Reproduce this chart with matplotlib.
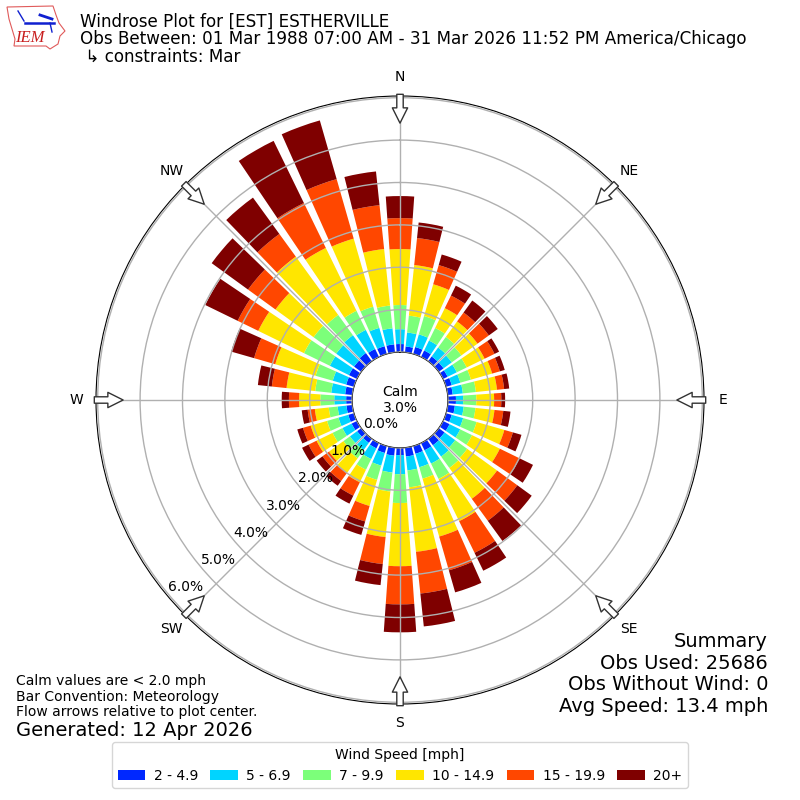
import numpy as np
import matplotlib
matplotlib.use("Agg")
import matplotlib.pyplot as plt
from matplotlib.lines import Line2D
from matplotlib.patches import Polygon

directions = np.arange(10, 370, 10)

# percent of obs per direction bin (10, 20, ... 360 degrees)
speed_2_5 = [.14, .17, .17, .14, .14, .12, .14, .12, .19, .17, .14, .17,
             .17, .19, .19, .19, .21, .17, .19, .17, .14, .12, .12, .14,
             .14, .14, .14, .17, .19, .21, .21, .24, .21, .19, .19, .19]
speed_5_7 = [.33, .31, .26, .26, .24, .24, .21, .24, .17, .21, .28, .28,
             .31, .33, .35, .33, .33, .45, .40, .31, .28, .21, .21, .24,
             .24, .21, .28, .33, .33, .50, .52, .52, .50, .45, .38, .35]
speed_7_10 = [.40, .45, .33, .31, .28, .26, .26, .31, .31, .28, .33, .31,
              .35, .33, .40, .28, .40, .68, .45, .35, .28, .24, .19, .26,
              .28, .21, .33, .38, .42, .68, .66, .59, .50, .52, .54, .57]
speed_10_15 = [1.20, .78, .52, .45, .47, .47, .52, .50, .42, .45, .68, .73,
               .87, .90, 1.11, 1.42, 1.53, 1.49, 1.08, .64, .33, .42, .42, .42,
               .40, .33, .50, .68, .99, 1.20, 1.11, 1.70, 1.65, 1.67, 1.34, 1.32]
speed_15_20 = [.64, .47, .33, .26, .33, .26, .19, .17, .17, .21, .21, .52,
               .59, .64, .83, .83, .99, .90, .64, .38, .35, .24, .19, .21,
               .19, .17, .24, .35, .52, .54, .80, .66, 1.18, 1.46, 1.04, .73]
speed_20_up = [.37, .26, .26, .35, .26, .12, .12, .12, .09, .17, .21, .35,
               .42, .59, .47, .54, .78, .66, .50, .33, .21, .14, .17, .17,
               .14, .14, .17, .33, .56, .85, 1.06, 1.06, 1.63, 1.44, .80, .52]

speed_bins = [speed_2_5, speed_5_7, speed_7_10, speed_10_15, speed_15_20, speed_20_up]
bin_labels = ["2 - 4.9", "5 - 6.9", "7 - 9.9", "10 - 14.9", "15 - 19.9", "20+"]
bin_colors = ["#0028ff", "#00d4ff", "#7cff7a", "#ffe600", "#ff4700", "#7f0000"]

compass_angles = [0, 45, 90, 135, 180, 225, 270, 315]
compass_labels = ["N", "NE", "E", "SE", "S", "SW", "W", "NW"]
ring_values = [0, 1, 2, 3, 4, 5, 6]
ring_labels = ["0.0%", "1.0%", "2.0%", "3.0%", "4.0%", "5.0%", "6.0%"]

fig = plt.figure(figsize=(8, 8), dpi=100)
ax = fig.add_axes([0.12, 0.12, 0.76, 0.76], projection="polar")
ax.set_theta_zero_location("N")
ax.set_theta_direction(-1)

theta = np.radians(directions)
bottom = np.zeros(len(directions))
for values, label, color in zip(speed_bins, bin_labels, bin_colors):
    ax.bar(theta, values, width=np.radians(8), bottom=bottom, color=color, label=label, zorder=1)
    bottom += np.array(values)

ax.set_rorigin(-1.13)
ax.set_ylim(0, 6.04)
ax.set_thetagrids(compass_angles, compass_labels, fontsize=10)
ax.tick_params(axis="x", pad=3.5)
ax.set_rgrids(ring_values, ring_labels, angle=230, fontsize=10)
ax.set_axisbelow(False)
ax.grid(True, color="#b0b0b0", lw=1)

# flow arrows, pointing at the plot center
for angle in compass_angles:
    ax.annotate("", xy=(np.radians(angle), 5.4), xytext=(np.radians(angle), 6.08),
                annotation_clip=False, zorder=5,
                arrowprops=dict(arrowstyle="simple,head_length=1.0,head_width=1.0,tail_width=0.42",
                                mutation_scale=11, fc="white", ec="#333333", lw=1,
                                shrinkA=0, shrinkB=0))

ax.text(0.5, 0.5, "Calm\n3.0%", transform=ax.transAxes, ha="center", va="center", fontsize=10, zorder=6)

fig.text(0.1, 0.9835, "Windrose Plot for [EST] ESTHERVILLE\n"
         "Obs Between: 01 Mar 1988 07:00 AM - 31 Mar 2026 11:52 PM America/Chicago\n"
         " \u21b3 constraints: Mar", fontsize=12.05, linespacing=0.94, va="top")

fig.text(0.02, 0.101, "Calm values are < 2.0 mph\nBar Convention: Meteorology\nFlow arrows relative to plot center.",
         fontsize=10, va="bottom", linespacing=1.13)
fig.text(0.02, 0.0875, "Generated: 12 Apr 2026", fontsize=14, va="center")
fig.text(0.96, 0.105, "Summary\nObs Used: 25686\nObs Without Wind: 0\nAvg Speed: 13.4 mph",
         fontsize=14, ha="right", va="bottom", linespacing=1.17)

handles, labels = ax.get_legend_handles_labels()
fig.legend(handles, labels, title="Wind Speed [mph]", ncol=6, fontsize=10, title_fontsize=10,
           loc="lower center", bbox_to_anchor=(0.5, 0.006), columnspacing=0.88, handletextpad=0.6)

# small IEM logo
logo = fig.add_axes([0.0, 0.93, 0.085, 0.07])
logo.set_xlim(0, 68)
logo.set_ylim(56, 0)
logo.axis("off")
logo.add_patch(Polygon([(7, 7), (53, 6), (56, 15), (59, 23), (65, 31), (60, 36), (58, 44), (50, 49),
                        (46, 46), (14, 46), (15, 39), (12, 29), (9, 19)],
                       closed=True, fill=False, ec="#e05a5a", lw=0.8))
logo.add_line(Line2D([25, 54], [23, 23], color="#1020d0", lw=1.8))
logo.add_line(Line2D([18, 24], [11, 21], color="#1020d0", lw=1))
logo.add_line(Line2D([40, 52], [15, 19], color="#1020d0", lw=2))
logo.add_line(Line2D([50, 52], [23, 32], color="#1020d0", lw=1))
logo.text(30, 38, "IEM", color="#c81e1e", fontsize=12, style="italic", family="Liberation Serif",
          ha="center", va="center")

fig.savefig("out.png", dpi=100)
